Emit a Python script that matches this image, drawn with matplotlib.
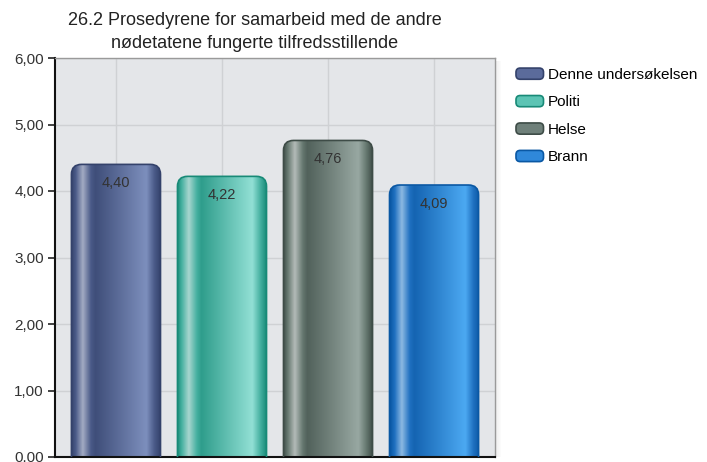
import numpy as np
from matplotlib import pyplot as plt
from matplotlib.patches import FancyBboxPatch, Patch, Rectangle
from matplotlib.legend_handler import HandlerPatch
from matplotlib.colors import to_rgb

plt.rcParams['font.family'] = ['Liberation Sans', 'DejaVu Sans']

title = "26.2 Prosedyrene for samarbeid med de andre\nnødetatene fungerte tilfredsstillende"
categories = ["Denne undersøkelsen", "Politi", "Helse", "Brann"]
values = [4.40, 4.22, 4.76, 4.09]
value_labels = ["4,40", "4,22", "4,76", "4,09"]
yticks = [0, 1, 2, 3, 4, 5, 6]
ytick_labels = ["0,00", "1,00", "2,00", "3,00", "4,00", "5,00", "6,00"]

# dark, mid, light, highlight for each series
palette = [
    ("#34426b", "#4a5a88", "#7d8fbd", "#a3abc3"),
    ("#188a77", "#45b0a0", "#92e0d5", "#a8d6cf"),
    ("#3e4c47", "#65776f", "#98a8a2", "#b3bbb8"),
    ("#0a58a4", "#1f70c0", "#4ca9f2", "#8cb9e2"),
]
legend_face = ["#5b6b9b", "#5cc4b4", "#6f807a", "#2f88da"]


def bar_gradient(cols, n=200):
    dark, mid, light, hl = [np.array(to_rgb(c)) for c in cols]
    stops = [(0.0, dark), (0.05, mid), (0.13, hl), (0.22, mid), (0.27, dark * 0.5 + mid * 0.5),
             (0.84, light), (0.93, mid), (1.0, dark)]
    t = np.linspace(0, 1, n)
    xs = [s[0] for s in stops]
    rgb = np.stack([np.interp(t, xs, [s[1][k] for s in stops]) for k in range(3)], axis=-1)
    return rgb[np.newaxis, :, :]


fig = plt.figure(figsize=(7.07, 4.62), dpi=100)
ax = fig.add_axes([55 / 707, 5 / 462, 440 / 707, 399 / 462])
ax.set_facecolor("#e4e6e9")

x = np.arange(len(categories))
bars = ax.bar(x, values, width=0.84, color="none", edgecolor="none")
ax.set_xlim(-0.575, len(categories) - 1 + 0.575)
ax.set_ylim(0, 6)

# aspect between data units so the rounded tops stay circular
fig.canvas.draw()
px_x = ax.transData.transform((1, 0))[0] - ax.transData.transform((0, 0))[0]
px_y = ax.transData.transform((0, 1))[1] - ax.transData.transform((0, 0))[1]
aspect = px_x / px_y
rad = 10 / px_x

for i, b in enumerate(bars):
    x0 = b.get_x()
    w = b.get_width()
    h = b.get_height()
    bottom = -0.4
    shape = FancyBboxPatch((x0, bottom), w, h - bottom,
                           boxstyle="round,pad=0,rounding_size=%f" % rad,
                           mutation_aspect=aspect, facecolor="none",
                           edgecolor=palette[i][0], linewidth=1.2, zorder=3)
    ax.add_patch(shape)
    img = ax.imshow(bar_gradient(palette[i]), extent=(x0, x0 + w, bottom, h),
                    aspect="auto", interpolation="bilinear", zorder=2)
    img.set_clip_path(shape)
    ax.text(b.get_x() + w / 2, h - 0.28, value_labels[i], ha="center", va="center",
            fontsize=10.5, color="#333333", zorder=4)

ax.set_xticks(x)
ax.set_xticklabels([])
ax.tick_params(axis="x", length=0)
ax.set_yticks(yticks)
ax.set_yticklabels(ytick_labels, fontsize=11, color="#333333")
ax.tick_params(axis="y", length=5, width=1.2, color="#222222", pad=3)
ax.grid(True, color="#cfd1d4", linewidth=1)
ax.set_axisbelow(True)
for side in ["left", "bottom"]:
    ax.spines[side].set_color("#111111")
    ax.spines[side].set_linewidth(1.5)
for side in ["top", "right"]:
    ax.spines[side].set_color("#9a9a9a")
    ax.spines[side].set_linewidth(1)

# soft shadow right of the plot area
for k in range(5):
    fig.patches.append(Rectangle(((496 + k) / 707, 5 / 462), 1 / 707, 396 / 462,
                                 transform=fig.transFigure, facecolor="#000000",
                                 alpha=0.06 - k * 0.011, edgecolor="none"))

fig.text(255 / 707, 1 - 32 / 462, title, ha="center", va="center", fontsize=13,
         color="#222222", linespacing=1.4)


def rounded_handle(legend, orig_handle, xdescent, ydescent, width, height, fontsize):
    return FancyBboxPatch((-xdescent, -ydescent), width, height,
                          boxstyle="round,pad=0,rounding_size=3")


handles = [Patch(facecolor=legend_face[i], edgecolor=palette[i][0], linewidth=1.2)
           for i in range(len(categories))]
fig.legend(handles, categories, loc="upper left", bbox_to_anchor=(516 / 707, 1 - 68 / 462),
           frameon=False, fontsize=11, handlelength=1.8, handleheight=0.75,
           handletextpad=0.3, labelspacing=0.88, borderaxespad=0, borderpad=0,
           handler_map={Patch: HandlerPatch(patch_func=rounded_handle)})

plt.savefig("out.png", dpi=100)
